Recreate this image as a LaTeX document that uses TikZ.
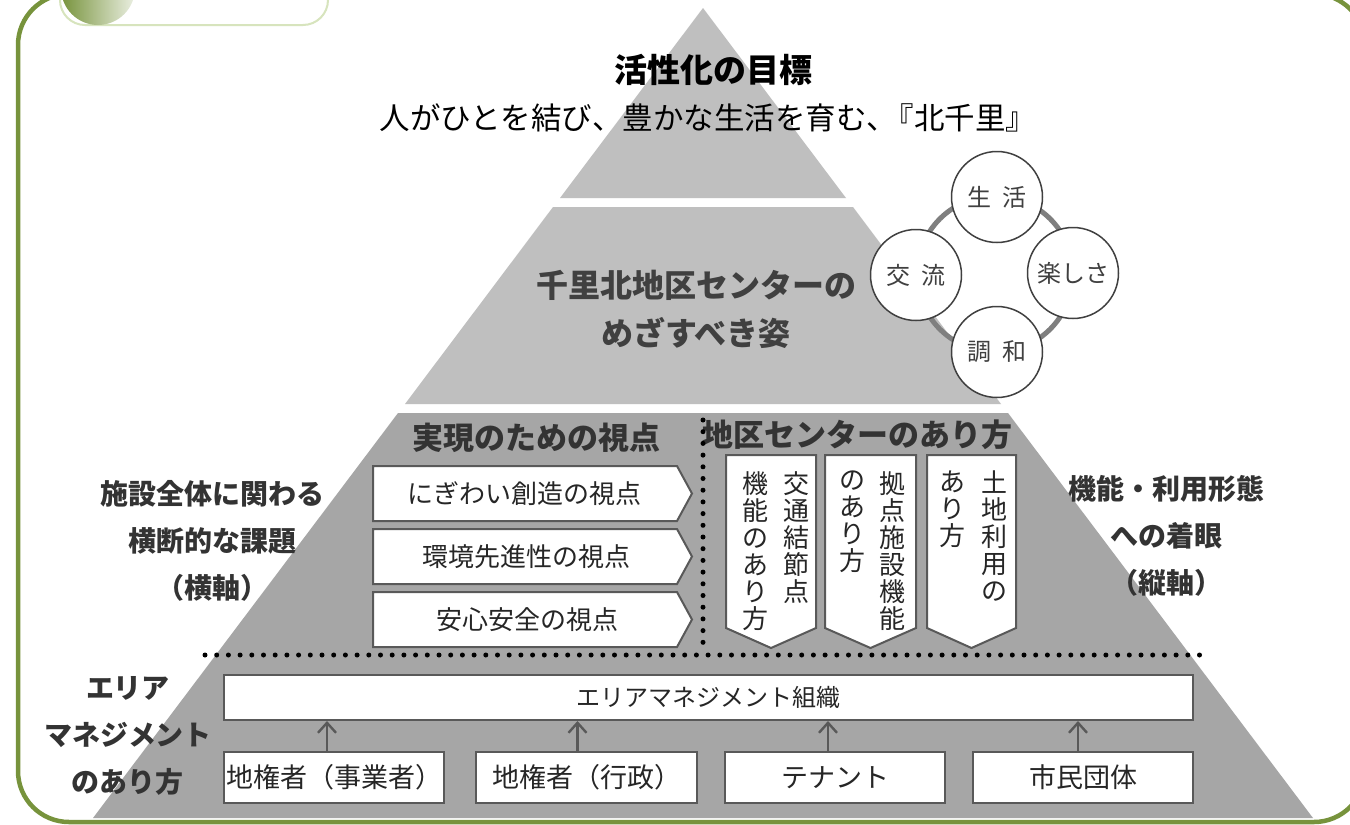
\documentclass[tikz,border=0pt]{standalone}
\usepackage{fontspec}
\setmainfont{Noto Sans CJK JP}
\usetikzlibrary{arrows.meta}
\definecolor{framegreen}{HTML}{77933C}
\definecolor{tabgreen}{HTML}{D7E4BD}
\definecolor{pyrlight}{HTML}{BFBFBF}
\definecolor{pyrdark}{HTML}{A6A6A6}
\definecolor{boxline}{HTML}{595959}
\definecolor{ringgray}{HTML}{7F7F7F}
\definecolor{labelgray}{HTML}{333333}
\definecolor{circtext}{HTML}{404040}
\newcommand\myfs[2]{\fontsize{#1}{#2}\selectfont}
\tikzset{
  titletext/.style={font=\myfs{33}{40}\bfseries, text=black, inner sep=0pt},
  mottotext/.style={font=\myfs{30.5}{36}, text=black, inner sep=0pt},
  bigbold/.style={font=\myfs{32}{48}\bfseries, text=circtext, inner sep=0pt, align=center},
  bandtitle/.style={font=\myfs{31}{36}\bfseries, text=labelgray, inner sep=0pt},
  sidelabel/.style={font=\myfs{28}{47}\bfseries, text=labelgray, inner sep=0pt, align=center},
  valcircle/.style={circle, draw=circtext, line width=1.5pt, fill=white, minimum size=91pt, inner sep=0pt, font=\myfs{24}{28}, text=circtext},
  ring/.style={draw=ringgray, line width=5pt},
  arrowbox/.style={draw=boxline, line width=2pt, fill=white},
  boxtext/.style={font=\myfs{26}{30}, text=black!85, inner sep=0pt},
  vtext/.style={font=\myfs{26}{27}, text=black!85, inner sep=0pt, align=center},
  orgbox/.style={draw=boxline, line width=2pt, fill=white, inner sep=0pt, font=\myfs{24}{28}, text=black!85},
  dotline/.style={line width=5pt, line cap=round, dash pattern=on 0pt off 11.7pt, black},
  uparrow/.style={draw=boxline, line width=2.4pt, -{Straight Barb[length=10pt,width=18pt]}}
}
\begin{document}
\begin{tikzpicture}[x=1pt,y=-1pt]
\clip (0,0) rectangle (1350,825);
\fill[white] (0,0) rectangle (1350,825);
% frame
\draw[framegreen, line width=4.5pt, rounded corners=51pt] (18,-6) rectangle (1365,822);
% header tab
\draw[tabgreen, line width=2pt, fill=white, rounded corners=25pt] (60,-40) rectangle (328,25);
\shade[left color=framegreen, right color=framegreen!15] (98,-12) circle (37);
% pyramid
\fill[pyrlight] (703,8) -- (846,198) -- (560,198) -- cycle;
\fill[pyrlight] (553,207) -- (853,207) -- (1001,404) -- (405,404) -- cycle;
\fill[pyrdark] (398,413) -- (1008,413) -- (1313,818) -- (93,818) -- cycle;
% top texts
\node[titletext] (goal) at (713,70) {活性化の目標};
\node[mottotext] (motto) at (708,118) {人がひとを結び、豊かな生活を育む、\kern-0.45em『北千里』};
\node[bigbold] (vision) at (696,309) {千里北地区センターの\\めざすべき姿};
% value circles
\draw[ring] (995,274) circle (78);
\node[valcircle] (life) at (997,197) {生\hspace{0.45em}活};
\node[valcircle] (fun) at (1073,273) {楽しさ};
\node[valcircle] (harm) at (997,352) {調\hspace{0.45em}和};
\node[valcircle] (exch) at (916,275) {交\hspace{0.45em}流};
% band titles
\node[bandtitle] (viewtitle) at (536,438) {実現のための視点};
\node[bandtitle] (roletitle) at (857,435) {地区センターのあり方};
% right-pointing viewpoint boxes
\draw[arrowbox] (373,466) -- (677,466) -- (692,493.5) -- (677,521) -- (373,521) -- cycle;
\draw[arrowbox] (373,529) -- (677,529) -- (692,556.5) -- (677,584) -- (373,584) -- cycle;
\draw[arrowbox] (373,592) -- (677,592) -- (692,619.5) -- (677,647) -- (373,647) -- cycle;
\node[boxtext] (v1) at (524,494) {にぎわい創造の視点};
\node[boxtext] (v2) at (526,557) {環境先進性の視点};
\node[boxtext] (v3) at (527,620) {安心安全の視点};
% down-pointing boxes
\draw[arrowbox] (726,455) -- (816,455) -- (816,628) -- (771,648) -- (726,628) -- cycle;
\draw[arrowbox] (825,455) -- (916,455) -- (916,628) -- (870.5,648) -- (825,628) -- cycle;
\draw[arrowbox] (927,455) -- (1016,455) -- (1016,628) -- (971.5,648) -- (927,628) -- cycle;
\node[vtext, anchor=north] (r1a) at (796,471) {交\\通\\結\\節\\点};
\node[vtext, anchor=north] (r1b) at (755,471) {機\\能\\の\\あ\\り\\方};
\node[vtext, anchor=north] (r2a) at (892,471) {拠\\点\\施\\設\\機\\能};
\node[vtext, anchor=north] (r2b) at (852,471) {の\\あ\\り\\方};
\node[vtext, anchor=north] (r3a) at (994,471) {土\\地\\利\\用\\の};
\node[vtext, anchor=north] (r3b) at (952,471) {あ\\り\\方};
% dotted separators
\coordinate (hl) at (205,655);
\coordinate (hr) at (1200,655);
\coordinate (vt) at (703,420);
\coordinate (vb) at (703,650);
\draw[dotline] (hl) -- (hr);
\draw[dotline] (vt) -- (vb);
% side labels
\node[sidelabel] (left) at (212,541) {施設全体に関わる\\横断的な課題\\（横軸）};
\node[sidelabel] (right) at (1166,536) {機能・利用形態\\への着眼\\（縦軸）};
\node[sidelabel] (amlabel) at (128,736) {エリア\\マネジメント\\のあり方};
% area management
\node[orgbox, minimum width=969pt, minimum height=45pt] (am) at (708.5,697.5) {エリアマネジメント組織};
\node[orgbox, font=\myfs{27}{30}, minimum width=220pt, minimum height=51pt] (b1) at (334,777.5) {地権者（事業者）};
\node[orgbox, font=\myfs{27}{30}, minimum width=221pt, minimum height=51pt] (b2) at (586.5,777.5) {地権者（行政）};
\node[orgbox, font=\myfs{27}{30}, minimum width=220pt, minimum height=51pt] (b3) at (835,777.5) {テナント};
\node[orgbox, font=\myfs{27}{30}, minimum width=220pt, minimum height=51pt] (b4) at (1083,777.5) {市民団体};
\draw[uparrow] ([xshift=-7pt]b1.north) -- ([xshift=-7pt]b1.north |- am.south);
\draw[uparrow] ([xshift=-9pt]b2.north) -- ([xshift=-9pt]b2.north |- am.south);
\draw[uparrow] ([xshift=-7pt]b3.north) -- ([xshift=-7pt]b3.north |- am.south);
\draw[uparrow] ([xshift=-5pt]b4.north) -- ([xshift=-5pt]b4.north |- am.south);
\end{tikzpicture}
\end{document}
